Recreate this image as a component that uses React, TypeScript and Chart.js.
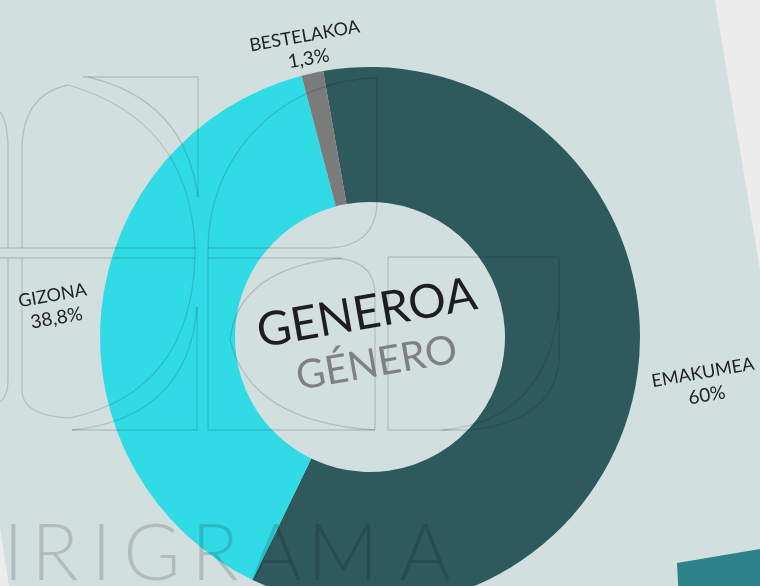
import React, { useEffect, useRef } from "react";
import { Chart, registerables } from "chart.js";
Chart.register(...registerables);

const CATEGORIES = ["EMAKUMEA", "GIZONA", "BESTELAKOA"];
const VALUES = [60, 38.8, 1.3];
const COLORS = ["#2e5a5e", "#31dbe6", "#7b7b7b"];
const TITLE = "GENEROA";
const SUBTITLE = "GÉNERO";
const WATERMARK = "IRIGRAMA";
const WATERMARK_X = [13.5, 55, 101.5, 152, 215, 276, 343, 425];

const W = 760;
const H = 586;
const CH = 640;
const BG = "#d1dfdf";
const TILT = (-10 * Math.PI) / 180;
const LABEL_GAPS = [68, 47, 27];
const FONT = "Lato, 'Open Sans', sans-serif";

const fmt = (v: number) => String(v).replace(".", ",") + "%";

function drawWatermarkLines(ctx: CanvasRenderingContext2D) {
  ctx.save();
  ctx.strokeStyle = "rgba(0,0,0,0.14)";
  ctx.lineWidth = 1.3;
  const path = (fn: () => void) => {
    ctx.beginPath();
    fn();
    ctx.stroke();
  };
  path(() => { ctx.moveTo(0, 112); ctx.quadraticCurveTo(8, 122, 8, 150); ctx.lineTo(8, 248); });
  path(() => { ctx.moveTo(8, 258); ctx.lineTo(8, 380); ctx.quadraticCurveTo(8, 396, 0, 402); });
  path(() => { ctx.moveTo(0, 248); ctx.lineTo(195, 248); });
  path(() => { ctx.moveTo(208, 248); ctx.lineTo(325, 248); ctx.quadraticCurveTo(374, 248, 377, 205); ctx.lineTo(377, 77); });
  path(() => { ctx.moveTo(0, 258); ctx.lineTo(195, 258); });
  path(() => { ctx.moveTo(208, 258); ctx.lineTo(330, 258); ctx.quadraticCurveTo(373, 258, 375, 292); ctx.lineTo(375, 430); });
  path(() => {
    ctx.moveTo(22, 248); ctx.lineTo(22, 150);
    ctx.quadraticCurveTo(22, 95, 68, 85);
    ctx.quadraticCurveTo(190, 120, 195, 248);
  });
  path(() => { ctx.moveTo(195, 248); ctx.lineTo(195, 258); });
  path(() => { ctx.moveTo(83, 77); ctx.lineTo(198, 77); ctx.lineTo(198, 197); });
  path(() => { ctx.moveTo(88, 77); ctx.quadraticCurveTo(185, 100, 198, 197); });
  path(() => { ctx.arc(378, 248, 170, Math.PI, 1.5 * Math.PI); });
  path(() => { ctx.moveTo(208, 248); ctx.lineTo(208, 258); });
  path(() => {
    ctx.moveTo(22, 258); ctx.lineTo(22, 392);
    ctx.quadraticCurveTo(24, 416, 70, 418);
    ctx.quadraticCurveTo(190, 392, 195, 258);
  });
  path(() => { ctx.moveTo(72, 430); ctx.lineTo(197, 430); ctx.lineTo(197, 307); });
  path(() => { ctx.moveTo(72, 430); ctx.quadraticCurveTo(188, 418, 197, 307); });
  path(() => { ctx.moveTo(208, 258); ctx.lineTo(208, 430); ctx.lineTo(375, 430); });
  path(() => { ctx.moveTo(342, 258); ctx.quadraticCurveTo(238, 268, 230, 340); });
  path(() => { ctx.moveTo(230, 340); ctx.quadraticCurveTo(250, 422, 375, 430); });
  path(() => { ctx.moveTo(388, 257); ctx.lineTo(388, 430); ctx.lineTo(470, 430); });
  path(() => { ctx.moveTo(388, 257); ctx.lineTo(559, 257); ctx.lineTo(559, 362); ctx.quadraticCurveTo(552, 422, 470, 430); });
  path(() => { ctx.moveTo(559, 305); ctx.quadraticCurveTo(548, 420, 443, 430); });
  ctx.restore();
}

const decorPlugin = {
  id: "decor",
  beforeDraw(chart: any) {
    const ctx: CanvasRenderingContext2D = chart.ctx;
    ctx.save();
    ctx.fillStyle = BG;
    ctx.fillRect(0, 0, W, CH);
    ctx.fillStyle = "#ececec";
    ctx.beginPath();
    ctx.moveTo(715, 0); ctx.lineTo(W, 0); ctx.lineTo(W, CH); ctx.lineTo(715 + CH * 0.167, CH);
    ctx.closePath(); ctx.fill();
    ctx.beginPath();
    ctx.moveTo(0, 528); ctx.lineTo(9, 586); ctx.lineTo(10, CH); ctx.lineTo(0, CH);
    ctx.closePath(); ctx.fill();
    ctx.fillStyle = "#2d8289";
    ctx.beginPath();
    ctx.moveTo(677, 563); ctx.lineTo(W, 549); ctx.lineTo(W, CH); ctx.lineTo(681, CH);
    ctx.closePath(); ctx.fill();
    ctx.restore();
  },
  afterDatasetsDraw(chart: any) {
    const ctx: CanvasRenderingContext2D = chart.ctx;
    drawWatermarkLines(ctx);
    ctx.save();
    ctx.fillStyle = "rgba(0,0,0,0.15)";
    ctx.font = `300 78px ${FONT}`;
    ctx.textAlign = "center";
    ctx.textBaseline = "alphabetic";
    WATERMARK.split("").forEach((ch, i) => ctx.fillText(ch, WATERMARK_X[i], 580));
    ctx.restore();

    const meta = chart.getDatasetMeta(0);
    let cx = 0, cy = 0;
    meta.data.forEach((arc: any, i: number) => {
      const p = arc.getProps(["x", "y", "startAngle", "endAngle", "outerRadius"], true);
      cx = p.x; cy = p.y;
      const mid = (p.startAngle + p.endAngle) / 2;
      const r = p.outerRadius + LABEL_GAPS[i];
      const lx = p.x + Math.cos(mid) * r;
      const ly = p.y + Math.sin(mid) * r;
      ctx.save();
      ctx.translate(lx, ly);
      ctx.rotate(TILT);
      ctx.textAlign = "center";
      ctx.textBaseline = "middle";
      ctx.fillStyle = "#222222";
      ctx.font = `18px ${FONT}`;
      ctx.fillText(CATEGORIES[i], 0, -11);
      ctx.font = `19px ${FONT}`;
      ctx.fillText(fmt(VALUES[i]), 0, 12);
      ctx.restore();
    });

    ctx.save();
    ctx.translate(cx, cy);
    ctx.rotate(TILT);
    ctx.textAlign = "center";
    ctx.textBaseline = "middle";
    ctx.fillStyle = "#1e1e1e";
    ctx.font = `47px ${FONT}`;
    ctx.fillText(TITLE, 1, -24);
    ctx.fillStyle = "#808080";
    ctx.font = `40px ${FONT}`;
    ctx.fillText(SUBTITLE, 2, 27);
    ctx.restore();
  },
};

export default function App() {
  const ref = useRef<HTMLCanvasElement | null>(null);
  useEffect(() => {
    if (!ref.current) return;
    const chart = new Chart(ref.current, {
      type: "doughnut",
      data: {
        labels: CATEGORIES,
        datasets: [
          {
            data: VALUES,
            backgroundColor: COLORS,
            borderWidth: 0,
            hoverOffset: 0,
            offset: 0,
          },
        ],
      },
      options: {
        responsive: false,
        maintainAspectRatio: false,
        animation: false,
        events: [],
        rotation: -10,
        cutout: "50%",
        layout: { padding: { left: 100, right: 120, top: 67, bottom: CH - 67 - 540 } },
        plugins: { legend: { display: false }, tooltip: { enabled: false } },
      },
      plugins: [decorPlugin],
    } as any);
    return () => chart.destroy();
  }, []);
  return (
    <div style={{ position: "fixed", left: 0, top: 0, width: W, height: H, overflow: "hidden", background: BG }}>
      <canvas ref={ref} width={W} height={CH} style={{ position: "absolute", left: 0, top: 0, display: "block" }} />
    </div>
  );
}
